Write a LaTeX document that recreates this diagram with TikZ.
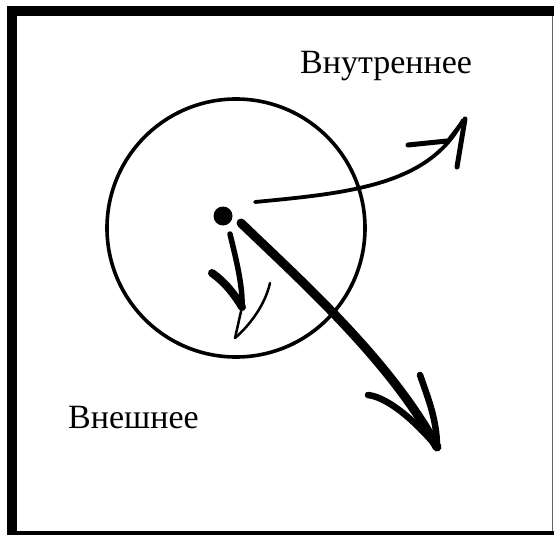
\documentclass[tikz,border=0pt]{standalone}
\usepackage{fontspec}
\setmainfont{Liberation Serif}
\begin{document}
\begin{tikzpicture}[x=1pt,y=-1pt,
  txt/.style={anchor=base west,inner sep=0pt,font=\fontsize{34}{40}\selectfont},
  framebar/.style={fill=black,draw=none},
  thinarrow/.style={line width=3.8pt,line cap=round,line join=round},
  thickarrow/.style={line width=9pt,line cap=round,line join=round},
  barb/.style={line width=6.5pt,line cap=round,line join=round},
  hairbarb/.style={line width=2.5pt,line cap=round,line join=round}]
\useasboundingbox (0,0) rectangle (554,535);
% frame
\fill[framebar] (7,7) rectangle (17,535);
\fill[framebar] (7,6) rectangle (554,16);
\fill[framebar] (7,531) rectangle (554,535);
\draw[line width=1pt,black!60] (552.5,16) -- (552.5,531);
% region boundary
\node[circle,draw,line width=3.6pt,minimum size=258pt,inner sep=0pt] (bound) at (236,228) {};
% point
\node[circle,fill=black,minimum size=19pt,inner sep=0pt] (dot) at (223,216) {};
% labels
\node[txt] (inner) at (300,74) {Внутреннее};
\node[txt] (outer) at (68,428) {Внешнее};
% endpoints
\coordinate (a1s) at (255,202);
\coordinate (a1t) at (463,120);
\coordinate (a2s) at (241,223);
\coordinate (a2t) at (437,447);
\coordinate (a3s) at (230,234);
\coordinate (a3m) at (242,307);
\coordinate (a3t) at (235,338);
% thin arrow to upper right
\draw[thinarrow] (a1s) .. controls (350,193) and (430,185) .. (a1t);
\draw[thinarrow,line width=5pt] (408,145) -- (447,141);
\draw[hairbarb] (447,141) -- (a1t);
\draw[barb,line width=5pt] (465,119) -- (457,167);
% thick arrow to lower right
\draw[thickarrow] (a2s) .. controls (300,280) and (390,360) .. (a2t);
\draw[barb] (368,395) .. controls (385,397) and (410,415) .. (a2t);
\draw[barb] (420,375) .. controls (428,398) and (437,420) .. (a2t);
% small arrow downward
\draw[barb,line width=5.5pt] (a3s) .. controls (235,255) and (243,285) .. (a3m);
\draw[barb,line width=8pt] (212,273) .. controls (225,282) and (235,295) .. (a3m);
\draw[hairbarb] (a3m) -- (a3t);
\draw[hairbarb] (a3t) .. controls (250,325) and (265,305) .. (270,283);
\end{tikzpicture}
\end{document}
